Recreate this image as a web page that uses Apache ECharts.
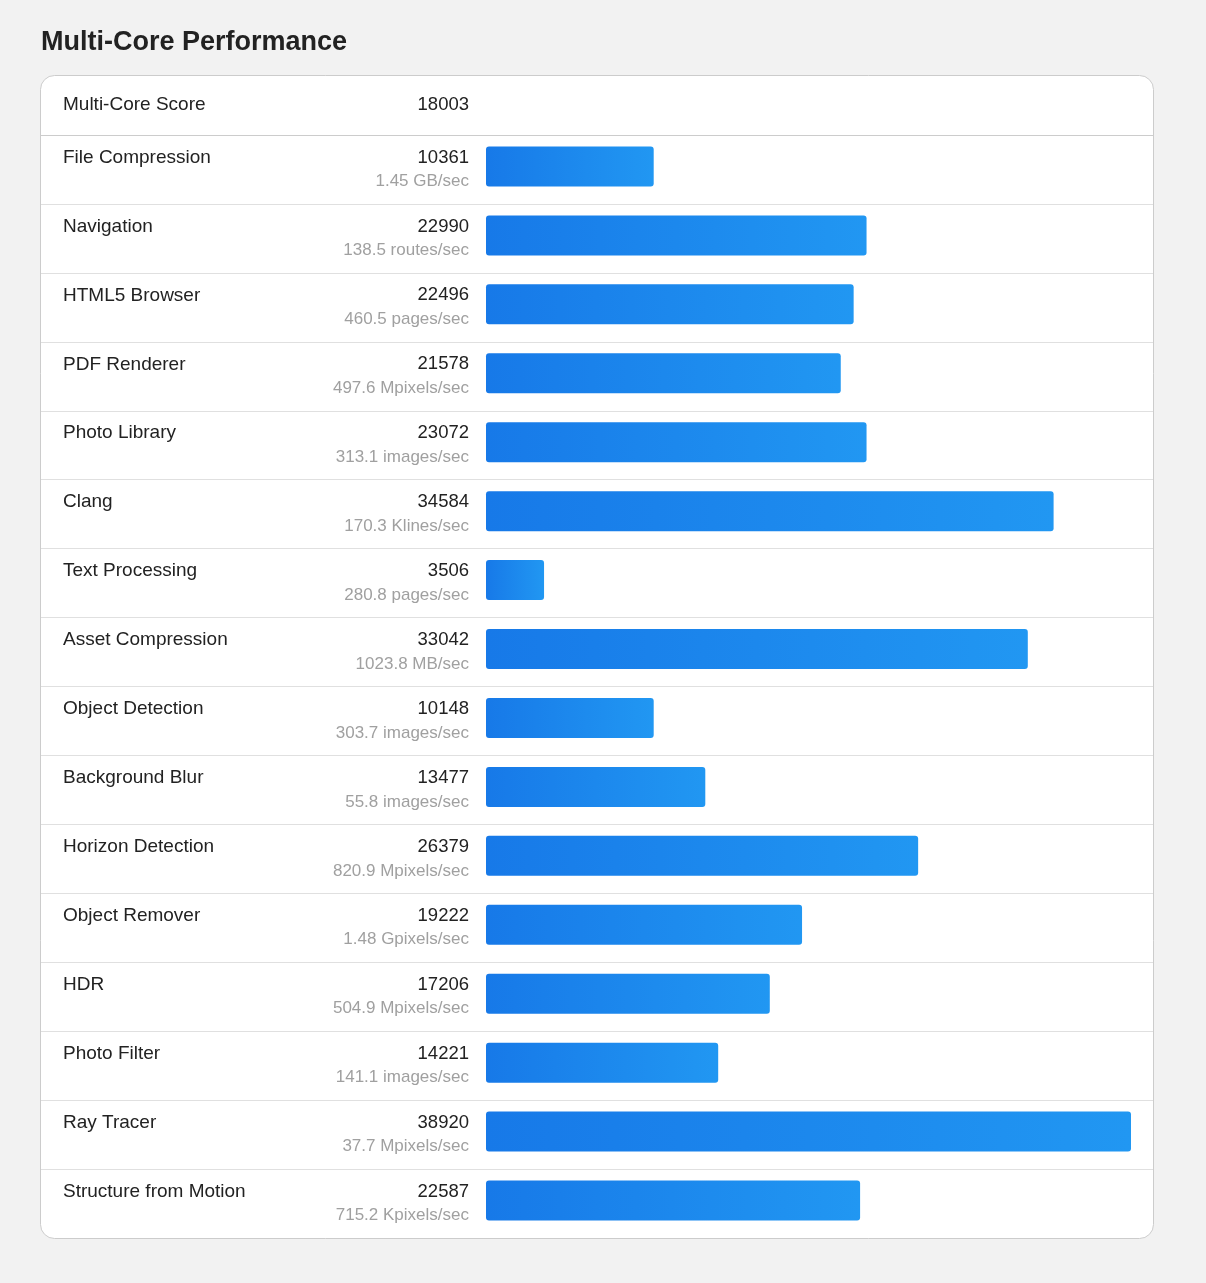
<!DOCTYPE html>
<html>
<head>
    <title>Multi-Core Performance</title>
    <meta charset="utf-8">
    <script src="https://cdn.jsdelivr.net/npm/echarts@6.0.0/dist/echarts.min.js"></script>
    <style>
        html, body { margin: 0; padding: 0; background: #f2f2f2; }
        #main { width: 1206px; height: 1283px; }
    </style>
</head>
<body>
    <div id="main"></div>
    <script type="text/javascript">
        // header row
        var titleText = 'Multi-Core Performance';
        var headerLabel = 'Multi-Core Score';
        var headerScore = 18003;

        // benchmark rows, top to bottom
        var workloads = ['File Compression', 'Navigation', 'HTML5 Browser', 'PDF Renderer',
            'Photo Library', 'Clang', 'Text Processing', 'Asset Compression',
            'Object Detection', 'Background Blur', 'Horizon Detection', 'Object Remover',
            'HDR', 'Photo Filter', 'Ray Tracer', 'Structure from Motion'];
        var scores = [10361, 22990, 22496, 21578, 23072, 34584, 3506, 33042,
            10148, 13477, 26379, 19222, 17206, 14221, 38920, 22587];
        var throughput = ['1.45 GB/sec', '138.5 routes/sec', '460.5 pages/sec', '497.6 Mpixels/sec',
            '313.1 images/sec', '170.3 Klines/sec', '280.8 pages/sec', '1023.8 MB/sec',
            '303.7 images/sec', '55.8 images/sec', '820.9 Mpixels/sec', '1.48 Gpixels/sec',
            '504.9 Mpixels/sec', '141.1 images/sec', '37.7 Mpixels/sec', '715.2 Kpixels/sec'];

        // the page sizes each bar as a whole percent of the best score
        var best = Math.max.apply(null, scores);
        var barPercent = scores.map(function (s) { return Math.floor(s / best * 100); });

        var font = '"Liberation Sans", Arial, sans-serif';

        // row separators: darker under the header, none at the very bottom
        var sepColors = workloads.map(function (w, i) { return i === 0 ? '#cccccc' : '#e0e0e0'; });
        sepColors.push('rgba(0,0,0,0)');

        var myChart = echarts.init(document.getElementById('main'));

        var option = {
            animation: false,
            backgroundColor: '#f2f2f2',
            title: {
                text: titleText,
                left: 36,
                top: 24,
                textStyle: { fontFamily: font, fontSize: 27, fontWeight: 'bold', color: '#222' }
            },
            graphic: [{
                type: 'rect',
                z: -10,
                shape: { x: 40.5, y: 75.5, width: 1113, height: 1163, r: 14 },
                style: { fill: '#fff', stroke: '#cccccc', lineWidth: 1 }
            }, {
                type: 'text',
                x: 63, y: 105,
                style: { text: headerLabel, fill: '#222', font: '19px ' + font, verticalAlign: 'middle', textAlign: 'left' }
            }, {
                type: 'text',
                x: 469, y: 105,
                style: { text: String(headerScore), fill: '#222', font: '18.5px ' + font, verticalAlign: 'middle', textAlign: 'right' }
            }],
            grid: [
                // full card width, only used for the row separators
                { left: 41, right: 53, top: 135, bottom: 45 },
                // label rows
                { left: 486, right: 75, top: 135, bottom: 45 },
                // bars sit a little above the row middle
                { left: 486, right: 75, top: 132, bottom: 48 }
            ],
            xAxis: [{
                gridIndex: 0, type: 'value', show: false, min: 0, max: 1
            }, {
                gridIndex: 1, type: 'value', show: false, min: 0, max: 100
            }, {
                gridIndex: 2, type: 'value', show: false, min: 0, max: 100
            }],
            yAxis: [{
                gridIndex: 0,
                type: 'category',
                inverse: true,
                data: workloads,
                axisLine: { show: false },
                axisTick: { show: false },
                axisLabel: { show: false },
                splitLine: { show: true, lineStyle: { color: sepColors, width: 1 } }
            }, {
                // workload names
                gridIndex: 1,
                type: 'category',
                inverse: true,
                data: workloads,
                axisLine: { show: false },
                axisTick: { show: false },
                splitLine: { show: false },
                axisLabel: {
                    margin: 423,
                    align: 'left',
                    formatter: function (val) {
                        return '{n|' + val + '}\n{n| }';
                    },
                    rich: {
                        n: { fontFamily: font, fontSize: 19, color: '#222', lineHeight: 24, align: 'left' }
                    }
                }
            }, {
                // score + throughput
                gridIndex: 1,
                type: 'category',
                position: 'left',
                inverse: true,
                data: workloads,
                axisLine: { show: false },
                axisTick: { show: false },
                splitLine: { show: false },
                axisLabel: {
                    margin: 17,
                    align: 'right',
                    formatter: function (val, idx) {
                        return '{v|' + scores[idx] + '}\n{u|' + throughput[idx] + '}';
                    },
                    rich: {
                        v: { fontFamily: font, fontSize: 18.5, color: '#222', lineHeight: 24, align: 'right' },
                        u: { fontFamily: font, fontSize: 17, color: '#a0a0a0', lineHeight: 24, align: 'right' }
                    }
                }
            }, {
                gridIndex: 2,
                type: 'category',
                inverse: true,
                data: workloads,
                show: false
            }],
            series: [{
                type: 'bar',
                xAxisIndex: 2,
                yAxisIndex: 3,
                data: barPercent,
                barWidth: 40,
                itemStyle: {
                    borderRadius: 3,
                    color: new echarts.graphic.LinearGradient(0, 0, 1, 0, [
                        { offset: 0, color: '#1779e8' },
                        { offset: 1, color: '#2197f2' }
                    ])
                }
            }]
        };

        myChart.setOption(option);
    </script>
</body>
</html>
